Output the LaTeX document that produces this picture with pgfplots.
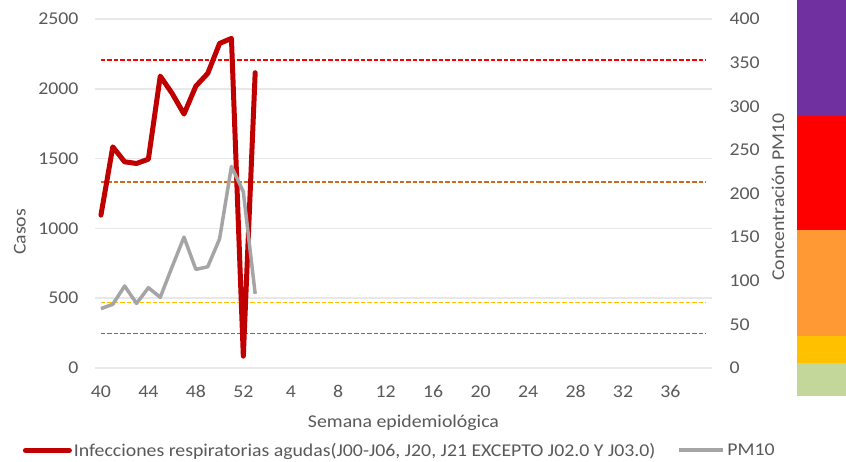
\documentclass[border=0pt]{standalone}
\usepackage{fontspec}
\setmainfont{Carlito}[FakeStretch=1.1]
\usepackage{pgfplots}
\pgfplotsset{compat=1.18}
\definecolor{ira}{HTML}{C00000}
\definecolor{pmgray}{HTML}{A5A5A5}
\definecolor{txt}{HTML}{595959}
\definecolor{gridc}{HTML}{E8E8E8}
\definecolor{dred}{HTML}{FF0000}
\definecolor{dorange}{HTML}{D2691E}
\definecolor{dyellow}{HTML}{FFC000}
\definecolor{dgreen}{HTML}{4E8A2A}
\definecolor{bpurple}{HTML}{7030A0}
\definecolor{bred}{HTML}{FF0000}
\definecolor{borange}{HTML}{FF9933}
\definecolor{byellow}{HTML}{FFC000}
\definecolor{bgreen}{HTML}{C4D79B}
\begin{document}
\begin{tikzpicture}[x=1pt,y=1pt]
\useasboundingbox (0,0) rectangle (846,462);
% colour scale bar at the right
\fill[bpurple] (797,346) rectangle (846,462);
\fill[bred] (797,232) rectangle (846,346);
\fill[borange] (797,126) rectangle (846,232);
\fill[byellow] (797,99) rectangle (846,126);
\fill[bgreen] (797,66) rectangle (846,99);
\begin{axis}[
  at={(95pt,94pt)}, anchor=south west, scale only axis,
  width=617pt, height=349pt,
  xmin=-0.5, xmax=51.5, ymin=0, ymax=2500,
  xtick={0,4,...,48},
  xticklabels={40,44,48,52,4,8,12,16,20,24,28,32,36},
  ytick={0,500,...,2500},
  ymajorgrids, grid style={gridc, line width=1.5pt},
  axis line style={draw=none}, major tick length=0pt,
  tick label style={font=\fontsize{18}{20}\selectfont, text=txt},
  /pgf/number format/assume math mode=true,
  /pgf/number format/1000 sep={},
  xticklabel style={yshift=-14pt},
  yticklabel style={xshift=-13pt},
  xlabel={Semana epidemiológica},
  ylabel={Casos},
  label style={font=\fontsize{18}{20}\selectfont, text=txt},
  xlabel style={at={(axis description cs:0.5,-0.158)}, anchor=center},
  ylabel style={at={(axis description cs:-0.122,0.39)}, anchor=center},
  legend style={draw=none, fill=none, at={(axis description cs:0.494,-0.236)}, anchor=center,
    legend columns=2, font=\fontsize{18}{20}\selectfont, text=txt,
    /tikz/every even column/.append style={column sep=20pt},
    nodes={inner sep=2pt}},
  legend image code/.code={\draw[#1] (0pt,0pt) -- (44pt,0pt);},
]
\addplot[forget plot, dred, line width=1.6pt, dash pattern=on 4.5pt off 2pt] coordinates {(0,2206) (51,2206)};
\addplot[forget plot, dorange, line width=1.6pt, dash pattern=on 4.5pt off 2pt] coordinates {(0,1331) (51,1331)};
\addplot[forget plot, dyellow, line width=1.6pt, dash pattern=on 4.5pt off 2pt] coordinates {(0,469) (51,469)};
\addplot[forget plot, dgreen, line width=1.6pt, dash pattern=on 4.5pt off 2pt] coordinates {(0,247) (51,247)};
\addplot[ira, line width=5pt, line join=round, line cap=round] coordinates {
(0,1095) (1,1584) (2,1477) (3,1465) (4,1496) (5,2091) (6,1967) (7,1819)
(8,2019) (9,2110) (10,2325) (11,2361) (12,85) (13,2115)};
\addlegendentry{Infecciones respiratorias agudas(J00-J06, J20, J21 EXCEPTO J02.0 Y J03.0)}
\addlegendimage{pmgray, line width=4pt}
\addlegendentry{PM10}
\end{axis}
\begin{axis}[
  at={(95pt,94pt)}, anchor=south west, scale only axis,
  width=617pt, height=349pt,
  xmin=-0.5, xmax=51.5, ymin=0, ymax=400,
  ytick={0,50,...,400},
  axis y line*=right, axis x line=none,
  axis line style={draw=none}, major tick length=0pt,
  tick label style={font=\fontsize{18}{20}\selectfont, text=txt},
  /pgf/number format/assume math mode=true,
  yticklabel style={xshift=14pt},
  ylabel={Concentración PM10},
  label style={font=\fontsize{18}{20}\selectfont, text=txt},
  ylabel style={at={(axis description cs:1.107,0.49)}, anchor=center, rotate=0},
]
\addplot[pmgray, line width=3.5pt, line join=round] coordinates {
(0,68) (1,73) (2,94) (3,74) (4,92) (5,81) (6,116) (7,150)
(8,113) (9,116) (10,148) (11,231) (12,202) (13,85)};
\end{axis}
\end{tikzpicture}
\end{document}
